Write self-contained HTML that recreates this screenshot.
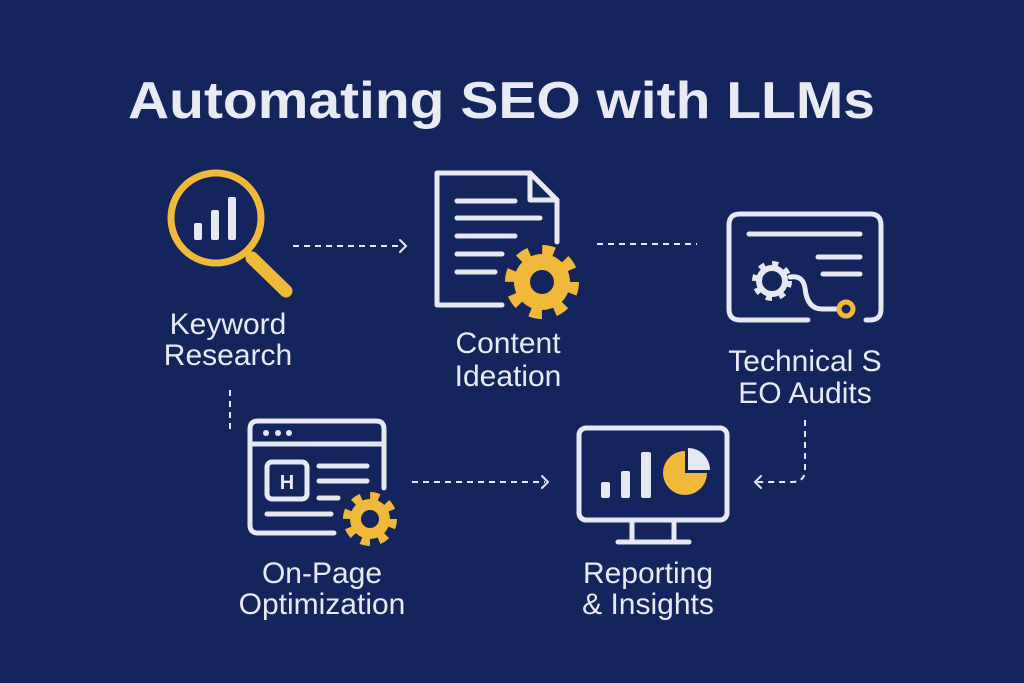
<!DOCTYPE html>
<html><head><meta charset="utf-8"><style>
html,body{margin:0;padding:0;background:#13255c;}
svg{display:block}
text{font-family:"Liberation Sans",sans-serif;fill:#e8eaf4}
</style></head><body>
<svg width="1024" height="683" viewBox="0 0 1024 683" xmlns="http://www.w3.org/2000/svg">
<rect width="1024" height="683" fill="#13255c"/>
<text x="128" y="118" font-size="52" font-weight="bold" textLength="747" lengthAdjust="spacingAndGlyphs">Automating SEO with LLMs</text>

<g stroke="#e6e8f2" fill="none" stroke-linecap="round" stroke-linejoin="round">
<circle cx="216" cy="218" r="45" stroke="#f0b93a" stroke-width="7"/>
<line x1="252" y1="258" x2="286" y2="291" stroke="#f0b93a" stroke-width="13"/>
</g>
<g fill="#e6e8f2">
<rect x="194" y="223" width="8" height="17" rx="2"/>
<rect x="211" y="210" width="8" height="30" rx="2"/>
<rect x="228" y="197" width="8" height="43" rx="2"/>
</g>

<g stroke="#e6e8f2" fill="none" stroke-width="5" stroke-linecap="round" stroke-linejoin="round">
<path d="M502 305 H437 V173 H530 L557 200 V242"/>
<path d="M530 173 V200 H557"/>
<line x1="457" y1="201" x2="515" y2="201"/>
<line x1="457" y1="218" x2="540" y2="218"/>
<line x1="457" y1="236" x2="515" y2="236"/>
<line x1="457" y1="254" x2="502" y2="254"/>
<line x1="457" y1="272" x2="495" y2="272"/>
</g>
<g>
<circle cx="542" cy="282" r="28" fill="#f0b93a"/>
<circle cx="542" cy="282" r="32" fill="none" stroke="#f0b93a" stroke-width="10" stroke-dasharray="12 13.13"/>
<circle cx="542" cy="282" r="12" fill="#13255c"/>
</g>

<g stroke="#e6e8f2" fill="none" stroke-width="5" stroke-linecap="round" stroke-linejoin="round">
<path d="M808 320 H740 Q729 320 729 309 V225 Q729 214 740 214 H870 Q881 214 881 225 V309 Q881 320 870 320 H866"/>
<line x1="749" y1="234" x2="860" y2="234"/>
<line x1="818" y1="257" x2="860" y2="257"/>
<line x1="823" y1="274" x2="860" y2="274"/>
<path d="M790 277 Q803 275 805 288 Q807 309 822 309 H838"/>
</g>
<circle cx="772" cy="281" r="13" fill="none" stroke="#e6e8f2" stroke-width="6"/>
<circle cx="772" cy="281" r="17" fill="none" stroke="#e6e8f2" stroke-width="6" stroke-dasharray="6 7.35"/>
<circle cx="846" cy="309" r="7" fill="none" stroke="#f0b93a" stroke-width="5"/>

<g stroke="#e6e8f2" fill="none" stroke-width="5" stroke-linecap="round" stroke-linejoin="round">
<path d="M334 533 H258 Q250 533 250 525 V429 Q250 421 258 421 H376 Q384 421 384 429 V488"/>
<line x1="250" y1="444" x2="384" y2="444"/>
<rect x="267" y="462" width="40" height="37" rx="5"/>
<line x1="319" y1="466" x2="367" y2="466"/>
<line x1="319" y1="481" x2="367" y2="481"/>
<line x1="319" y1="498" x2="338" y2="498"/>
<line x1="267" y1="514" x2="331" y2="514"/>
</g>
<g fill="#e6e8f2">
<circle cx="266" cy="433" r="3"/><circle cx="278" cy="433" r="3"/><circle cx="289" cy="433" r="3"/>
</g>
<text x="287" y="489" font-size="20" font-weight="bold" text-anchor="middle">H</text>
<g>
<circle cx="370" cy="519" r="20" fill="#f0b93a"/>
<circle cx="370" cy="519" r="23" fill="none" stroke="#f0b93a" stroke-width="8" stroke-dasharray="9 9.06"/>
<circle cx="370" cy="519" r="9" fill="#13255c"/>
</g>

<g stroke="#e6e8f2" fill="none" stroke-width="5" stroke-linecap="round" stroke-linejoin="round">
<rect x="579" y="428" width="148" height="92" rx="7"/>
<line x1="632" y1="520" x2="632" y2="541"/>
<line x1="674" y1="520" x2="674" y2="541"/>
<line x1="618" y1="542" x2="689" y2="542"/>
</g>
<g fill="#e6e8f2">
<rect x="601" y="482" width="9" height="16" rx="2"/>
<rect x="621" y="471" width="9" height="27" rx="2"/>
<rect x="641" y="452" width="10" height="46" rx="2"/>
</g>
<path d="M685 473 L685 451 A22 22 0 1 0 707 473 Z" fill="#f0b93a"/>
<path d="M688 470 V448 A22 22 0 0 1 710 470 Z" fill="#e6e8f2"/>

<g stroke="#e6e8f2" fill="none" stroke-width="2" stroke-dasharray="6 5">
<line x1="293" y1="246" x2="402" y2="246"/>
<line x1="597" y1="244" x2="697" y2="244"/>
<line x1="230" y1="390" x2="230" y2="432"/>
<line x1="412" y1="482" x2="545" y2="482"/>
<path d="M805 420 V470 Q805 482 792 482 H757"/>
</g>
<g stroke="#e6e8f2" fill="none" stroke-width="2" stroke-linecap="round">
<path d="M400 240 L406 246 L400 252"/>
<path d="M542 476 L548 482 L542 488"/>
<path d="M761 476 L755 482 L761 488"/>
</g>

<g font-size="30" text-anchor="middle">
<text x="228" y="334">Keyword</text>
<text x="228" y="365">Research</text>
<text x="508" y="353">Content</text>
<text x="508" y="386">Ideation</text>
<text x="805" y="371">Technical S</text>
<text x="805" y="403">EO Audits</text>
<text x="322" y="583">On-Page</text>
<text x="322" y="614">Optimization</text>
<text x="648" y="583">Reporting</text>
<text x="648" y="614">&amp; Insights</text>
</g>
</svg>
</body></html>
